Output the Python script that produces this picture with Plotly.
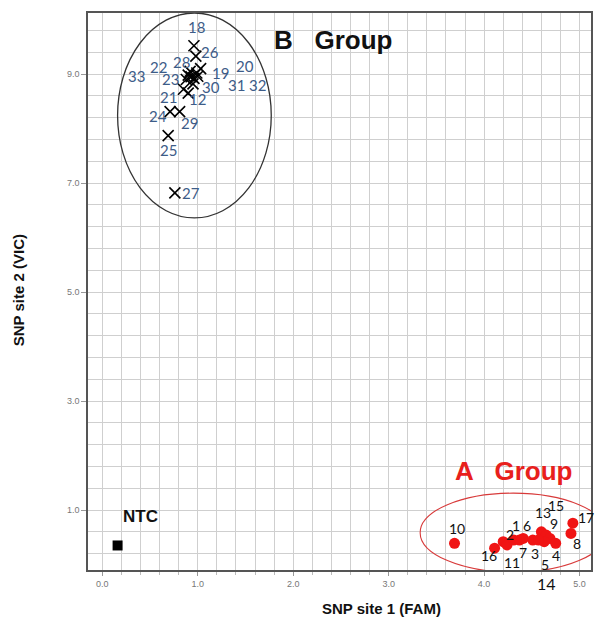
import plotly.graph_objects as go

# ---------------- data ----------------
b_labels = ['18', '26', '28', '19', '22', '20', '23', '33', '31', '32', '30', '21', '12', '24', '29', '25', '27']
b_x = [0.96, 0.98, 0.92, 1.03, 0.90, 0.99, 0.88, 0.93, 0.96, 1.00, 0.95, 0.85, 0.90, 0.71, 0.81, 0.69, 0.76]
b_y = [9.52, 9.33, 9.05, 9.10, 8.98, 9.02, 8.90, 8.95, 8.92, 8.96, 8.82, 8.72, 8.65, 8.31, 8.31, 7.87, 6.82]

a_labels = ['10', '16', '2', '11', '1', '6', '7', '3', '13', '15', '9', '5', '14', '4', '8', '17']
a_x = [3.69, 4.11, 4.20, 4.24, 4.31, 4.41, 4.37, 4.51, 4.60, 4.65, 4.69, 4.63, 4.57, 4.75, 4.91, 4.93]
a_y = [0.39, 0.30, 0.42, 0.36, 0.45, 0.48, 0.45, 0.45, 0.60, 0.54, 0.48, 0.42, 0.45, 0.39, 0.57, 0.76]

ntc_x = [0.16]
ntc_y = [0.35]

x_ticks = [0, 1, 2, 3, 4, 5]
y_ticks = [1, 3, 5, 7, 9]

# label offsets (pixels) relative to their points: (dx, dy up)
b_off = {'18': (3, 19), '26': (14, 4), '28': (-9, 9), '19': (20, -4), '22': (-30, 8),
         '20': (48, 7), '23': (-16, 0), '33': (-55, 1), '31': (43, -7), '32': (60, -9),
         '30': (18, -3), '21': (-15, -8), '12': (9, -6), '24': (-12, -4), '29': (10, -11),
         '25': (0, -14), '27': (16, 0)}
a_off = {'10': (2, 15), '16': (-6, -7), '2': (7, 7), '11': (5, -18), '1': (2, 15),
         '6': (4, 13), '7': (4, -12), '3': (2, -13), '13': (2, 19), '15': (10, 30),
         '9': (4, 15), '5': (1, -23), '14': (8, -43), '4': (0, -12), '8': (6, -10),
         '17': (13, 6)}

fig = go.Figure()

fig.add_trace(go.Scatter(x=b_x, y=b_y, mode='markers',
                         marker=dict(symbol='x-thin', size=11, color='black',
                                     line=dict(color='black', width=1.6)),
                         showlegend=False, hoverinfo='skip'))
fig.add_trace(go.Scatter(x=a_x, y=a_y, mode='markers',
                         marker=dict(symbol='circle', size=11, color='#f01414',
                                     line=dict(width=0)),
                         showlegend=False, hoverinfo='skip'))
fig.add_trace(go.Scatter(x=ntc_x, y=ntc_y, mode='markers',
                         marker=dict(symbol='square', size=10, color='black'),
                         showlegend=False, hoverinfo='skip'))

ann = []
for lab, x, y in zip(b_labels, b_x, b_y):
    dx, dy = b_off[lab]
    ann.append(dict(x=x, y=y, text=lab, showarrow=False, xshift=dx, yshift=dy,
                    font=dict(family='Lato, Arial', size=15, color='#3d5c88')))
for lab, x, y in zip(a_labels, a_x, a_y):
    dx, dy = a_off[lab]
    sz = 16 if lab == '14' else 14
    ann.append(dict(x=x, y=y, text=lab, showarrow=False, xshift=dx, yshift=dy,
                    font=dict(family='Lato, Arial', size=sz, color='#111111')))
ann.append(dict(x=ntc_x[0], y=ntc_y[0], text='<b>NTC</b>', showarrow=False, xshift=23, yshift=29,
                font=dict(family='Liberation Sans, Arial', size=17, color='#111111')))
ann.append(dict(x=2.42, y=9.62, text='<b>B   Group</b>', showarrow=False,
                font=dict(family='Liberation Sans, Arial', size=26, color='#111111')))
ann.append(dict(x=4.31, y=1.72, text='<b>A   Group</b>', showarrow=False,
                font=dict(family='Liberation Sans, Arial', size=26, color='#e8201c')))
ann.append(dict(x=383, y=608, xref='paper', yref='paper', text='<b>SNP site 1 (FAM)</b>',
                xanchor='center', yanchor='middle',
                showarrow=False, font=dict(family='Liberation Sans, Arial', size=15, color='#111')))
ann.append(dict(x=18, y=290, xref='paper', yref='paper', text='<b>SNP site 2 (VIC)</b>',
                xanchor='center', yanchor='middle',
                showarrow=False, textangle=-90,
                font=dict(family='Liberation Sans, Arial', size=15, color='#111')))

# convert pixel-placed title annotations to paper coords
L, R, T, B = 88, 4, 13, 51
W, H = 597, 621
pw, ph = W - L - R, H - T - B
for a in ann:
    if a.get('xref') == 'paper':
        a['x'] = (a['x'] - L) / pw
        a['y'] = (H - B - a['y']) / ph

shapes = [
    dict(type='circle', xref='x', yref='y', x0=0.16, x1=1.77, y0=6.36, y1=10.12,
         line=dict(color='#333333', width=1.3)),
    dict(type='circle', xref='x', yref='y', x0=3.33, x1=5.28, y0=-0.14, y1=1.31,
         line=dict(color='#d83a3a', width=1.1)),
]

fig.update_layout(
    width=W, height=H,
    margin=dict(l=L, r=R, t=T, b=B),
    paper_bgcolor='white', plot_bgcolor='white',
    annotations=ann, shapes=shapes,
    xaxis=dict(range=[-0.15, 5.12], tickmode='array', tickvals=x_ticks,
               ticktext=[f'{v:.1f}' for v in x_ticks],
               showgrid=True, gridcolor='#cfcfcf', gridwidth=1,
               minor=dict(dtick=0.2, tick0=0, showgrid=True, gridcolor='#cfcfcf', gridwidth=1,
                          ticks='outside', ticklen=3, tickcolor='#bbbbbb'),
               ticks='outside', ticklen=4, tickcolor='#999999',
               showline=True, linecolor='#555555', linewidth=1.5, mirror=True,
               zeroline=False, tickfont=dict(family='Liberation Sans, Arial', size=9, color='#777777')),
    yaxis=dict(range=[-0.1, 10.12], tickmode='array', tickvals=y_ticks,
               ticktext=[f'{v:.1f}' for v in y_ticks],
               showgrid=True, gridcolor='#cfcfcf', gridwidth=1,
               minor=dict(dtick=0.4, tick0=0.2, showgrid=True, gridcolor='#cfcfcf', gridwidth=1),
               ticks='outside', ticklen=5, tickcolor='#999999',
               showline=True, linecolor='#555555', linewidth=1.5, mirror=True,
               zeroline=False, tickfont=dict(family='Liberation Sans, Arial', size=9, color='#777777')),
)

fig.write_html('out.html', config={'displayModeBar': False},
               post_script="document.body.style.margin='0';document.body.style.padding='0';")
